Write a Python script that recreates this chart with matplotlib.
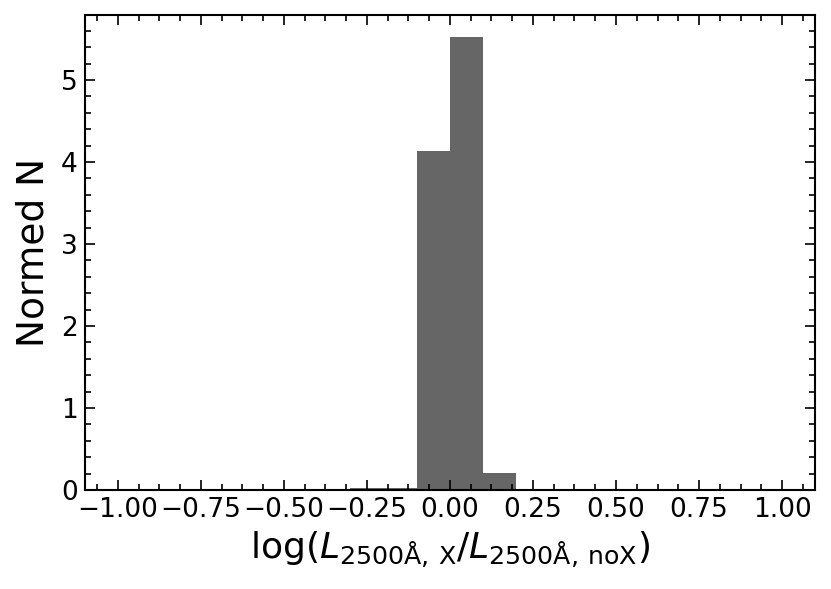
import matplotlib
matplotlib.use("Agg")
import matplotlib.pyplot as plt
import numpy as np
from matplotlib.ticker import AutoMinorLocator

# histogram (density) of log(L2500,X / L2500,noX), bins of 0.1 from -1 to 1
bin_edges = np.round(np.arange(-1.0, 1.0001, 0.1), 2)
heights = [0, 0, 0, 0, 0, 0, 0, 0.03, 0.02, 4.14,
           5.52, 0.21, 0.01, 0, 0, 0, 0, 0, 0, 0]

centers = 0.5 * (bin_edges[:-1] + bin_edges[1:])

fig = plt.figure(figsize=(8.31, 5.89), dpi=100)
ax = fig.add_axes([0.102, 0.168, 0.879, 0.807])

ax.hist(centers, bins=bin_edges, weights=heights, color="k", alpha=0.6)

ax.set_xticks(np.arange(-1.0, 1.01, 0.25))
ax.xaxis.set_minor_locator(AutoMinorLocator(4))
ax.yaxis.set_minor_locator(AutoMinorLocator(5))
ax.tick_params(which="both", direction="in", top=True, right=True,
               labelsize=19, width=1.2)
ax.tick_params(which="major", length=7, pad=5)
ax.tick_params(which="minor", length=4)
for s in ax.spines.values():
    s.set_linewidth(1.5)

ax.set_xlabel(r"log($L_{\rm 2500Å,\,X}/L_{\rm 2500Å,\,noX}$)", fontsize=26,
              labelpad=5)
ax.set_ylabel("Normed N", fontsize=27, labelpad=7)

fig.savefig("out.png", dpi=100)
